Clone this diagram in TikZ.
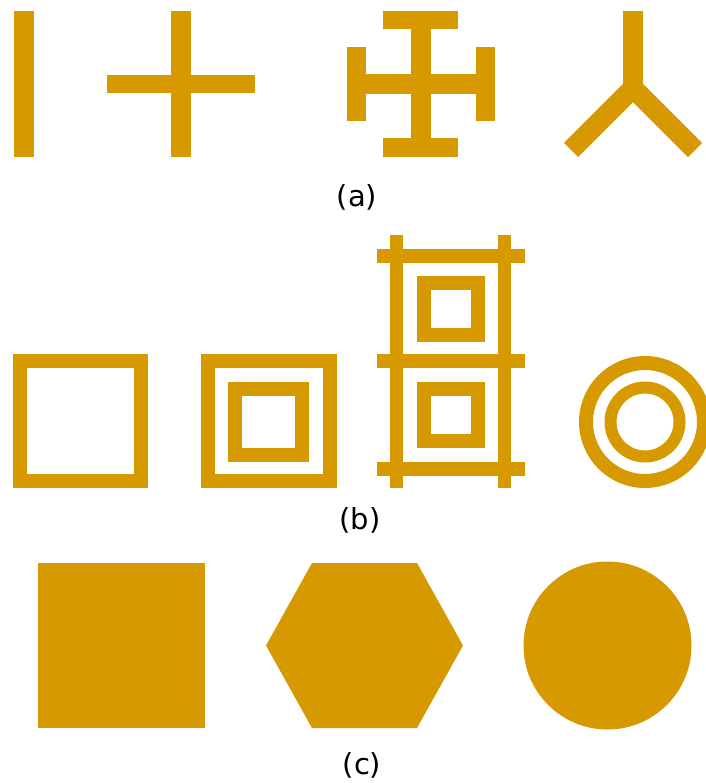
\documentclass[tikz,border=0pt]{standalone}
\usepackage{fontspec}
\setmainfont{DejaVu Sans}
\definecolor{gold}{RGB}{214,154,0}
\begin{document}
\begin{tikzpicture}[x=1pt,y=-1pt,
  bar/.style={fill=gold,draw=none},
  ring/.style={draw=gold,fill=none},
  lbl/.style={font=\fontsize{29}{34}\selectfont,inner sep=0pt,anchor=center}]
\useasboundingbox (0,0) rectangle (705,783);
% ---------- (a) ----------
\fill[bar] (14,11) rectangle (34,157);
\fill[bar] (171,11) rectangle (191,157);
\fill[bar] (107,75) rectangle (255,93);
\fill[bar] (411,11) rectangle (431,157);
\fill[bar] (383,11) rectangle (458,29);
\fill[bar] (383,138) rectangle (458,157);
\fill[bar] (347,74) rectangle (495,94);
\fill[bar] (347,47) rectangle (366,121);
\fill[bar] (476,47) rectangle (495,121);
\coordinate (ytop) at (633,11);
\coordinate (yjoin) at (633,88);
\coordinate (yleft) at (571,150);
\coordinate (yright) at (695,150);
\fill[bar] (623,11) rectangle (643,95);
\draw[gold,line width=20pt,line cap=butt,line join=miter] (yleft) -- (yjoin) -- (yright);
\node[lbl] (la) at (357,197) {(a)};
% ---------- (b) ----------
\draw[ring,line width=14pt] (20,361) rectangle (141,481);
\draw[ring,line width=14pt] (207.5,361) rectangle (330,481);
\draw[ring,line width=14pt] (235,389) rectangle (301.5,455);
\fill[bar] (390,235) rectangle (403,488);
\fill[bar] (498,235) rectangle (511,488);
\fill[bar] (377,249) rectangle (525,263);
\fill[bar] (377,354) rectangle (525,368);
\fill[bar] (377,462) rectangle (525,476);
\draw[ring,line width=13.5pt] (424,283) rectangle (478,335);
\draw[ring,line width=13.5pt] (424,389) rectangle (478,441);
\draw[ring,line width=14pt] (645,422) circle[radius=59pt];
\draw[ring,line width=12pt] (645,422) circle[radius=34.5pt];
\node[lbl] (lb) at (360,520) {(b)};
% ---------- (c) ----------
\fill[bar] (38,563) rectangle (205,728);
\fill[bar] (266,645.5) -- (312,563) -- (417,563) -- (463,645.5) -- (417,728) -- (312,728) -- cycle;
\fill[bar] (607.5,645.5) circle[radius=84pt];
\node[lbl] (lc) at (362,765) {(c)};
\end{tikzpicture}
\end{document}
